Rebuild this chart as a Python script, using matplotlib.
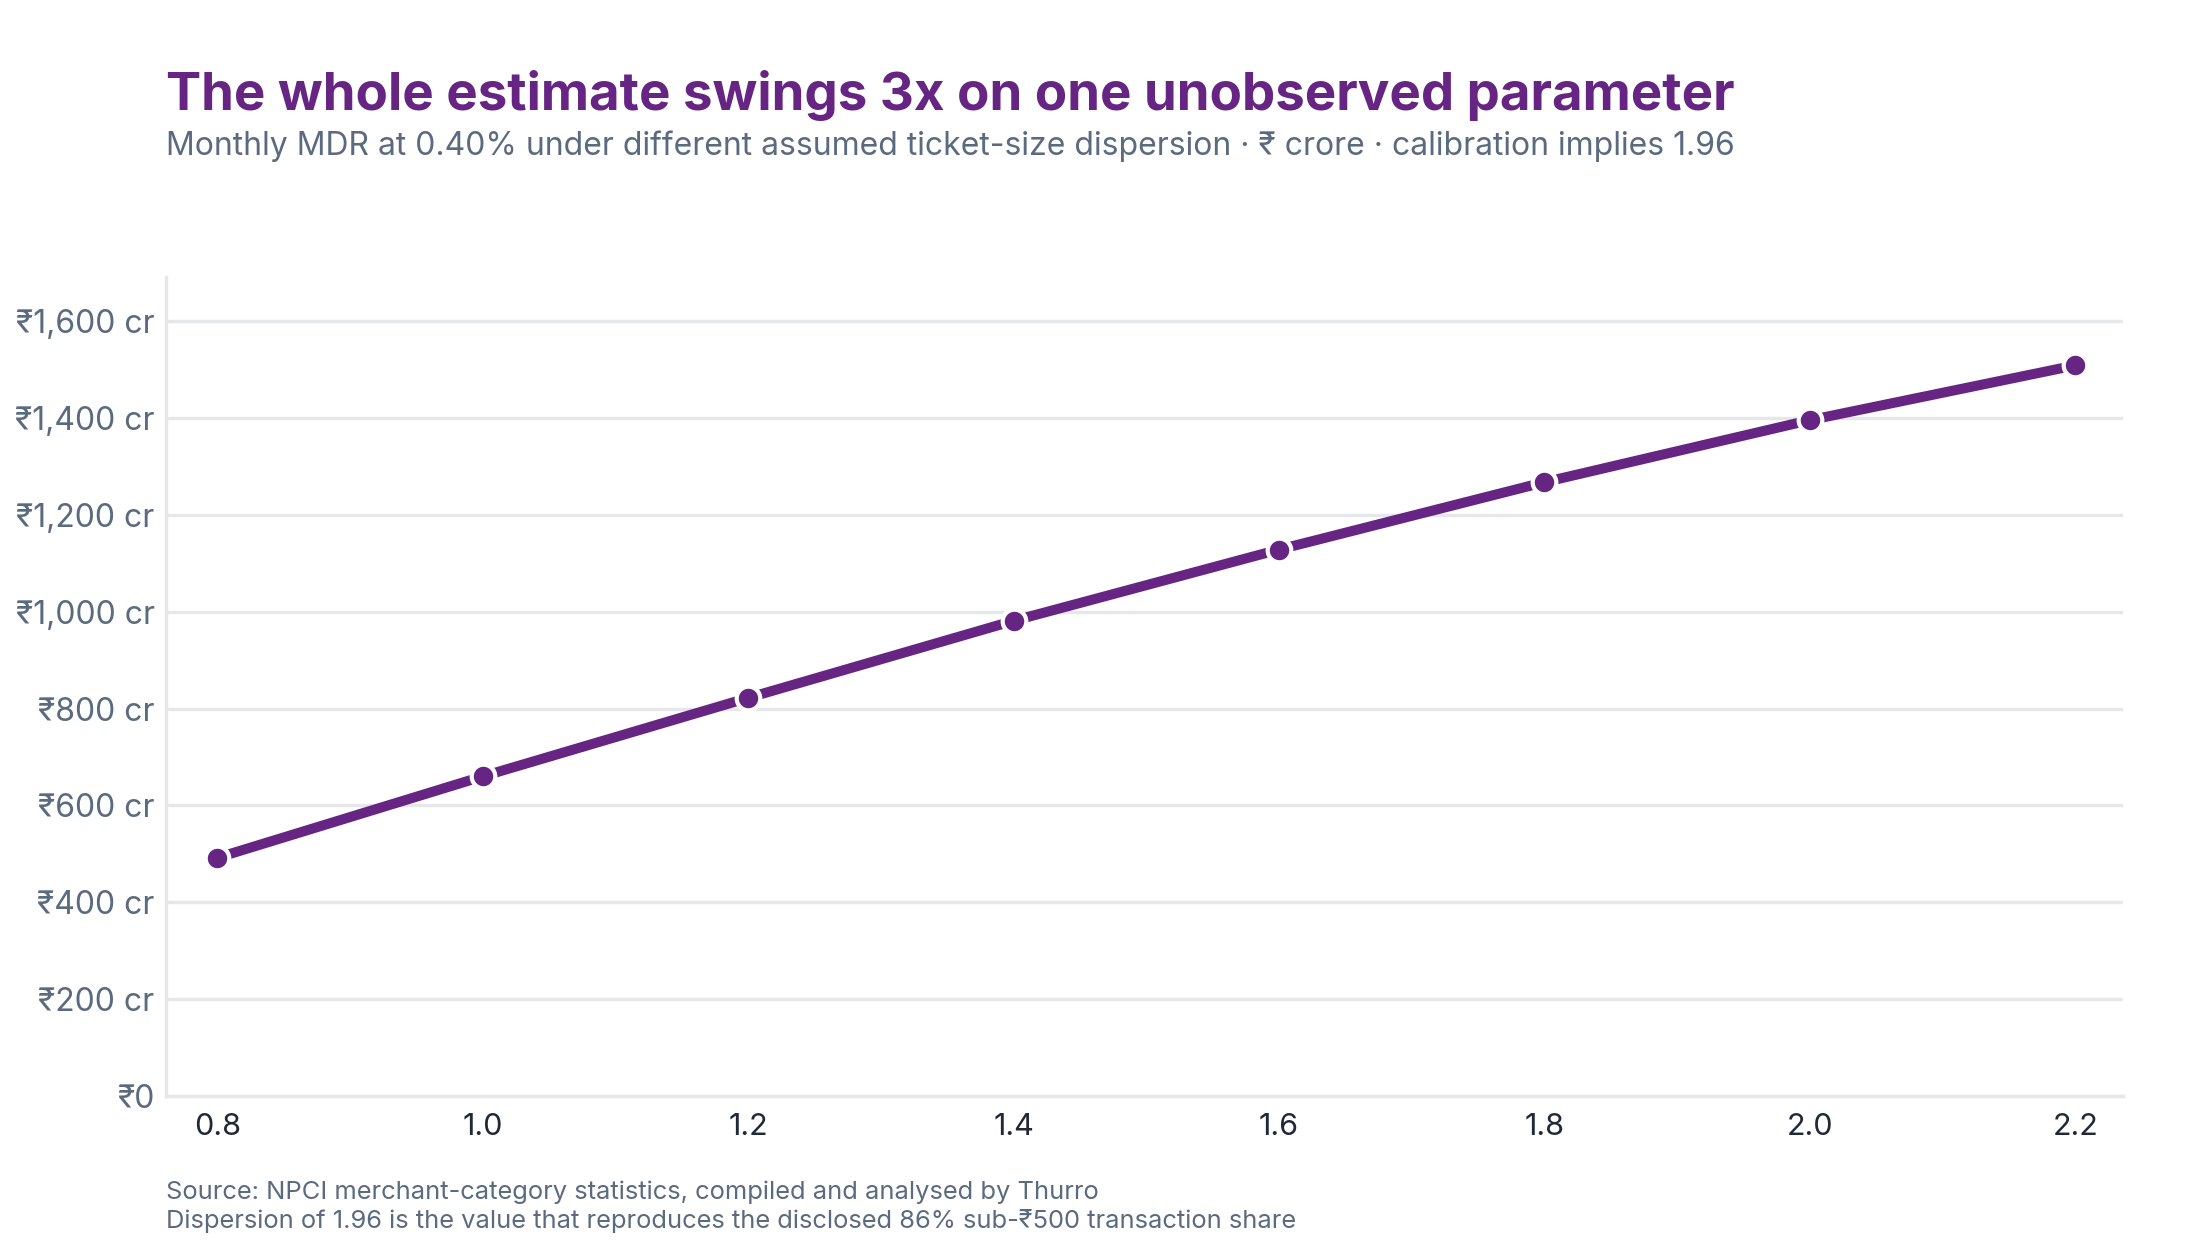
import matplotlib
matplotlib.use("Agg")
import matplotlib.pyplot as plt
from matplotlib.ticker import FuncFormatter

# Данные
dispersion = [0.8, 1.0, 1.2, 1.4, 1.6, 1.8, 2.0, 2.2]
mdr_crore = [492, 660, 822, 981, 1128, 1267, 1395, 1508]
y_ticks = [0, 200, 400, 600, 800, 1000, 1200, 1400, 1600]
x_ticks = [0.8, 1.0, 1.2, 1.4, 1.6, 1.8, 2.0, 2.2]

title = "The whole estimate swings 3x on one unobserved parameter"
subtitle = ("Monthly MDR at 0.40% under different assumed ticket-size dispersion "
            "\u00b7 \u20b9 crore \u00b7 calibration implies 1.96")
notes = ["Source: NPCI merchant-category statistics, compiled and analysed by Thurro",
         "Dispersion of 1.96 is the value that reproduces the disclosed 86% sub-\u20b9500 transaction share"]

PURPLE = "#662483"
SLATE = "#5b6b7f"
GRID = "#e5e7eb"

plt.rcParams['font.family'] = ['Inter', 'DejaVu Sans']

fig = plt.figure(figsize=(11, 6.3), dpi=200)
ax = fig.add_axes([0.0753, 0.130, 0.8897, 0.650])

ax.plot(dispersion, mdr_crore, color=PURPLE, linewidth=3.6, marker='o',
        markersize=8.5, markerfacecolor=PURPLE, markeredgecolor='white',
        markeredgewidth=1.5, solid_capstyle='round', zorder=3)

ax.set_xlim(0.761, 2.236)
ax.set_ylim(0, 1690)
ax.set_yticks(y_ticks)
ax.set_xticks(x_ticks)
ax.yaxis.set_major_formatter(FuncFormatter(
    lambda v, p: "\u20b90" if v == 0 else f"\u20b9{int(v):,} cr"))
ax.xaxis.set_major_formatter(FuncFormatter(lambda v, p: f"{v:.1f}"))

ax.grid(axis='y', color=GRID, linewidth=1.2, zorder=0)
ax.grid(axis='x', visible=False)
for side in ['top', 'right']:
    ax.spines[side].set_visible(False)
for side in ['left', 'bottom']:
    ax.spines[side].set_color(GRID)
    ax.spines[side].set_linewidth(1.2)
ax.tick_params(axis='both', length=0)
ax.tick_params(axis='y', labelsize=11.5, labelcolor=SLATE, pad=4)
ax.tick_params(axis='x', labelsize=11, labelcolor="#1f2937", pad=6)

fig.text(0.0753, 0.924, title, fontsize=19.0, fontweight='bold', color=PURPLE,
         ha='left', va='center')
fig.text(0.0753, 0.884, subtitle, fontsize=11.5, color=SLATE, ha='left', va='center')
fig.text(0.0753, 0.0536, notes[0], fontsize=9.2, color=SLATE, ha='left', va='center')
fig.text(0.0753, 0.0312, notes[1], fontsize=9.2, color=SLATE, ha='left', va='center')

fig.savefig("out.png", dpi=200, facecolor='white')
